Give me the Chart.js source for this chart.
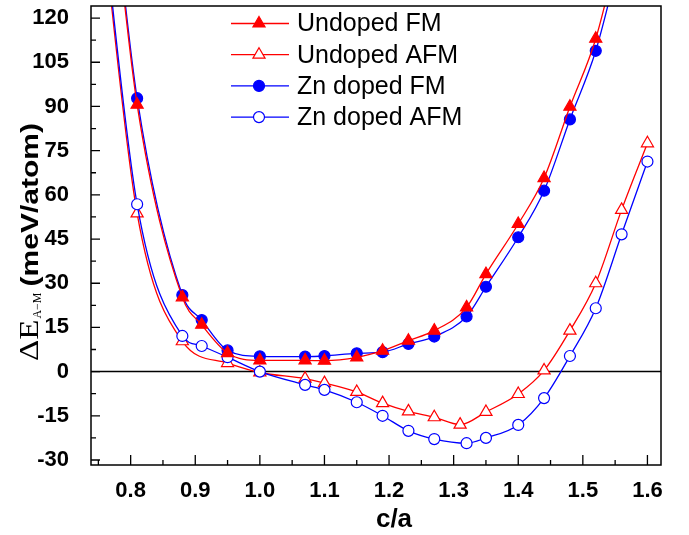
<!DOCTYPE html>
<html lang="en">
<head>
<meta charset="utf-8">
<script src="https://cdn.jsdelivr.net/npm/chart.js@4.4.1/dist/chart.umd.min.js"></script>
<style>
    body { margin: 0; background: #fff; }
</style>
</head>
<body>
<canvas id="myChart" width="689" height="535"></canvas>
<script>
    // c/a ratios used for the FM runs (undoped and Zn doped share them)
    var fmRatio = [0.77, 0.81, 0.88, 0.91, 0.95, 1.00, 1.07, 1.10, 1.15, 1.19, 1.23, 1.27, 1.32, 1.35, 1.40, 1.44, 1.48, 1.52, 1.56];
    var undopedFM = [166, 90.6, 25.2, 15.9, 6.3, 3.8, 3.8, 3.7, 4.8, 7.1, 10.5, 13.9, 21.8, 33.1, 50.1, 65.7, 89.9, 113.0, 148];
    var znFM = [168, 92.8, 26.0, 17.5, 7.2, 5.2, 5.1, 5.3, 6.2, 6.6, 9.4, 11.9, 18.7, 28.8, 45.6, 61.4, 85.6, 108.9, 143];

    // AFM runs
    var undopedAfmRatio = [0.75, 0.81, 0.88, 0.95, 1.00, 1.07, 1.10, 1.15, 1.19, 1.23, 1.27, 1.31, 1.35, 1.40, 1.44, 1.48, 1.52, 1.56, 1.60];
    var undopedAFM = [165, 53.7, 10.3, 2.9, -0.3, -2.4, -3.9, -6.9, -10.7, -13.5, -15.5, -18.0, -13.7, -7.6, 0.4, 13.9, 30.0, 54.9, 77.5];
    var znAfmRatio = [0.75, 0.81, 0.88, 0.91, 0.95, 1.00, 1.07, 1.10, 1.15, 1.19, 1.23, 1.27, 1.32, 1.35, 1.40, 1.44, 1.48, 1.52, 1.56, 1.60];
    var znAFM = [168, 56.8, 12.1, 8.7, 4.9, 0.0, -4.5, -6.2, -10.4, -15.0, -20.1, -22.9, -24.3, -22.5, -18.1, -9.0, 5.3, 21.5, 46.6, 71.3];

    var seriesNames = ['Undoped FM', 'Undoped AFM', 'Zn doped FM', 'Zn doped AFM'];
    var xTicks = [0.8, 0.9, 1.0, 1.1, 1.2, 1.3, 1.4, 1.5, 1.6];
    var yTicks = [-30, -15, 0, 15, 30, 45, 60, 75, 90, 105, 120];

    var RED = '#ff0000', BLUE = '#0000ff';
    var SANS = '"Liberation Sans", Arial, sans-serif';
    var SERIF = '"Liberation Serif", "Times New Roman", serif';

    var styles = [
        { color: RED, pointStyle: 'triangle', filled: true, radius: 7, order: 0 },
        { color: RED, pointStyle: 'triangle', filled: false, radius: 7, order: 3 },
        { color: BLUE, pointStyle: 'circle', filled: true, radius: 5.5, order: 2 },
        { color: BLUE, pointStyle: 'circle', filled: false, radius: 5.5, order: 1 }
    ];

    function toPoints(xs, ys) {
        return xs.map(function (x, i) { return { x: x, y: ys[i] }; });
    }

    var seriesData = [
        toPoints(fmRatio, undopedFM),
        toPoints(undopedAfmRatio, undopedAFM),
        toPoints(fmRatio, znFM),
        toPoints(znAfmRatio, znAFM)
    ];

    var datasets = seriesData.map(function (data, i) {
        var s = styles[i];
        return {
            label: seriesNames[i],
            data: data,
            borderColor: s.color,
            borderWidth: 1.3,
            backgroundColor: s.filled ? s.color : '#fff',
            pointStyle: s.pointStyle,
            pointRadius: s.radius,
            pointBorderWidth: 1.2,
            pointBorderColor: s.color,
            pointBackgroundColor: s.filled ? s.color : '#fff',
            cubicInterpolationMode: 'monotone',
            order: s.order
        };
    });

    function drawMarker(ctx, s, x, y) {
        ctx.beginPath();
        if (s.pointStyle === 'triangle') {
            for (var k = 0; k < 3; k++) {
                var a = k * 2 * Math.PI / 3;
                var px = x + Math.sin(a) * s.radius, py = y - Math.cos(a) * s.radius;
                if (k) ctx.lineTo(px, py); else ctx.moveTo(px, py);
            }
            ctx.closePath();
        } else {
            ctx.arc(x, y, s.radius, 0, 2 * Math.PI);
        }
        ctx.fillStyle = s.filled ? s.color : '#fff';
        ctx.fill();
        ctx.lineWidth = 1.2;
        ctx.strokeStyle = s.color;
        ctx.stroke();
    }

    // zero line under the data, frame / inward ticks / legend / titles on top
    var decor = {
        id: 'decor',
        beforeDatasetsDraw: function (chart) {
            var ctx = chart.ctx, a = chart.chartArea;
            var y0 = chart.scales.y.getPixelForValue(0);
            ctx.save();
            ctx.strokeStyle = '#000';
            ctx.lineWidth = 1.5;
            ctx.beginPath();
            ctx.moveTo(a.left, y0);
            ctx.lineTo(a.right, y0);
            ctx.stroke();
            ctx.restore();
        },
        afterDraw: function (chart) {
            var ctx = chart.ctx, a = chart.chartArea;
            var xs = chart.scales.x, ys = chart.scales.y;
            ctx.save();
            ctx.strokeStyle = '#000';
            ctx.lineWidth = 1.5;
            ctx.strokeRect(a.left, a.top, a.right - a.left, a.bottom - a.top);

            // ticks point into the plot
            ctx.lineWidth = 1.3;
            ctx.beginPath();
            xTicks.forEach(function (v, i) {
                var px = xs.getPixelForValue(v);
                ctx.moveTo(px, a.bottom); ctx.lineTo(px, a.bottom - 10);
                var m = xs.getPixelForValue(v - 0.05);
                if (m > a.left) { ctx.moveTo(m, a.bottom); ctx.lineTo(m, a.bottom - 5); }
            });
            yTicks.forEach(function (v) {
                var py = ys.getPixelForValue(v);
                ctx.moveTo(a.left, py); ctx.lineTo(a.left + 9, py);
                var m = ys.getPixelForValue(v + 7.5);
                if (m > a.top) { ctx.moveTo(a.left, m); ctx.lineTo(a.left + 5, m); }
            });
            ctx.stroke();

            // legend
            ctx.font = '25px ' + SANS;
            ctx.textBaseline = 'middle';
            ctx.textAlign = 'left';
            styles.forEach(function (s, i) {
                var ly = 23.5 + i * 31.2;
                ctx.strokeStyle = s.color;
                ctx.lineWidth = 1.3;
                ctx.beginPath();
                ctx.moveTo(231, ly); ctx.lineTo(289, ly);
                ctx.stroke();
                drawMarker(ctx, s, 259, ly);
                ctx.fillStyle = '#000';
                ctx.fillText(seriesNames[i], 297, ly + 1);
            });

            // x axis title
            ctx.font = 'bold 26px ' + SANS;
            ctx.textAlign = 'center';
            ctx.textBaseline = 'alphabetic';
            ctx.fillText('c/a', 394, 527);

            // y axis title: ΔE with subscript A−M, then the unit
            ctx.translate(37.5, 361);
            ctx.rotate(-Math.PI / 2);
            ctx.textAlign = 'left';
            var pos = 0, w;
            ctx.font = '28px ' + SERIF;
            w = ctx.measureText('ΔE').width;
            ctx.save(); ctx.scale(1.18, 1); ctx.fillText('ΔE', 0, 0); ctx.restore();
            pos += w * 1.18 + 1;
            ctx.font = '12px ' + SERIF;
            ctx.fillText('A\u2212M', pos, 3.5);
            pos += ctx.measureText('A\u2212M').width + 6;
            ctx.font = 'bold 24px ' + SANS;
            ctx.save(); ctx.scale(1.25, 1); ctx.fillText('(meV/atom)', pos / 1.25, 0); ctx.restore();
            ctx.restore();
        }
    };

    var ctx = document.getElementById('myChart').getContext('2d');
    var myChart = new Chart(ctx, {
        type: 'line',
        data: { datasets: datasets },
        options: {
            responsive: false,
            animation: false,
            layout: { autoPadding: false, padding: { left: 0, right: 28, top: 6, bottom: 0 } },
            plugins: { legend: { display: false }, tooltip: { enabled: false } },
            scales: {
                x: {
                    type: 'linear',
                    min: 0.7386,
                    max: 1.621,
                    afterBuildTicks: function (scale) {
                        scale.ticks = xTicks.map(function (v) { return { value: v }; });
                    },
                    afterFit: function (scale) {
                        scale.height = 70;
                        scale.paddingLeft = 0;
                        scale.paddingRight = 0;
                    },
                    grid: { display: false },
                    border: { display: false },
                    ticks: {
                        color: '#000',
                        padding: 5,
                        maxRotation: 0,
                        font: { family: SANS, size: 22, weight: 'bold' },
                        callback: function (v) { return v.toFixed(1); }
                    }
                },
                y: {
                    min: -31.7,
                    max: 124.1,
                    afterBuildTicks: function (scale) {
                        scale.ticks = yTicks.map(function (v) { return { value: v }; });
                    },
                    afterFit: function (scale) {
                        scale.width = 91;
                        scale.paddingTop = 0;
                        scale.paddingBottom = 0;
                    },
                    grid: { display: false },
                    border: { display: false },
                    ticks: {
                        color: '#000',
                        padding: 14,
                        font: { family: SANS, size: 22, weight: 'bold' }
                    }
                }
            }
        },
        plugins: [decor]
    });
</script>
</body>
</html>
